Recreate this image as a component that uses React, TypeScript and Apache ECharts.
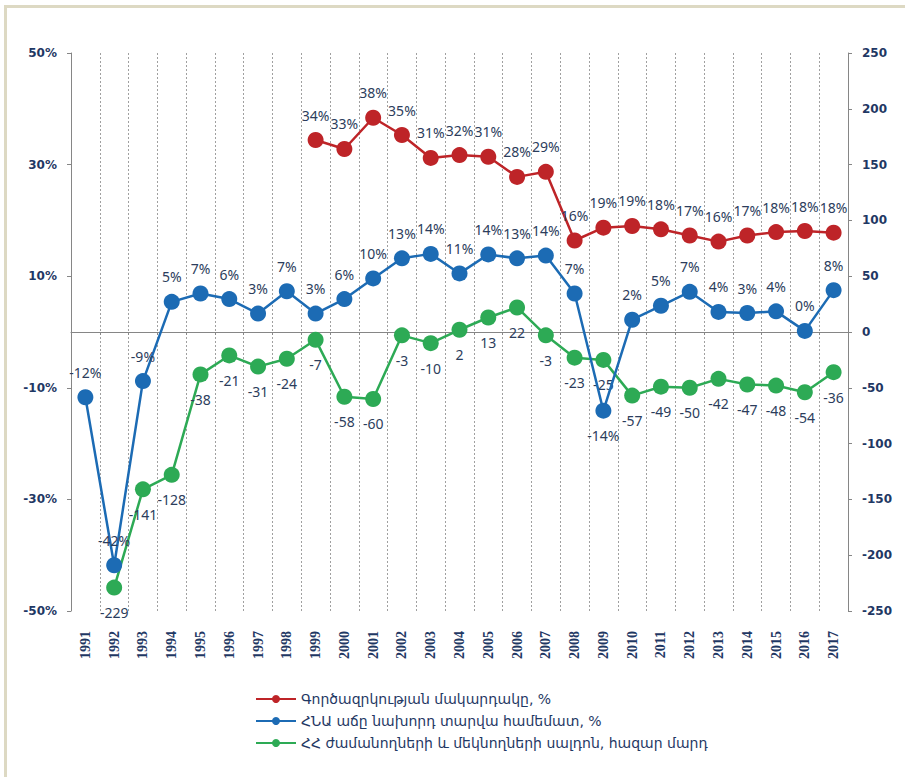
import React, { useEffect, useRef } from "react";
import * as echarts from "echarts";

const years = [
  "1991", "1992", "1993", "1994", "1995", "1996", "1997", "1998", "1999",
  "2000", "2001", "2002", "2003", "2004", "2005", "2006", "2007", "2008",
  "2009", "2010", "2011", "2012", "2013", "2014", "2015", "2016", "2017",
];

const unemploymentName = "Գործազրկության մակարդակը, %";
const gdpName = "ՀՆԱ աճը նախորդ տարվա համեմատ, %";
const migrationName = "ՀՀ ժամանողների և մեկնողների սալդոն, հազար մարդ";

const unemployment = [
  null, null, null, null, null, null, null, null,
  34.4, 32.8, 38.4, 35.3, 31.2, 31.7, 31.4, 27.8, 28.7, 16.4, 18.7, 19.0,
  18.4, 17.3, 16.2, 17.3, 17.9, 18.1, 17.8,
];

const gdpGrowth = [
  -11.7, -41.8, -8.8, 5.4, 6.9, 5.9, 3.3, 7.3, 3.3, 5.9, 9.6, 13.2, 14.0,
  10.5, 13.9, 13.2, 13.7, 6.9, -14.1, 2.2, 4.7, 7.2, 3.6, 3.4, 3.7, 0.2, 7.5,
];

const migration = [
  null, -229, -141, -128, -38, -21, -31, -24, -7, -58, -60, -3, -10, 2, 13,
  22, -3, -23, -25, -57, -49, -50, -42, -47, -48, -54, -36,
];

const leftTicks = { min: -50, max: 50, interval: 20 };
const rightTicks = { min: -250, max: 250, interval: 50 };

const NAVY = "#1F3864";
const LABEL = "#2C3D5C";
const AXIS_GRAY = "#868686";

export default function App() {
  const ref = useRef<HTMLDivElement>(null);

  useEffect(() => {
    if (!ref.current) return;
    const chart = echarts.init(ref.current, undefined, { renderer: "svg" });

    const labelStyle = {
      show: true,
      color: LABEL,
      fontFamily: "Noto Sans",
      fontSize: 14,
    };

    chart.setOption({
      animation: false,
      backgroundColor: "#ffffff",
      graphic: [
        { type: "rect", shape: { x: 4, y: 5, width: 901, height: 3 }, style: { fill: "#DDD9C3" } },
        { type: "rect", shape: { x: 4, y: 5, width: 3, height: 772 }, style: { fill: "#DDD9C3" } },
      ],
      grid: { left: 71, right: 57, top: 53, bottom: 166, containLabel: false },
      legend: {
        orient: "vertical",
        left: 250,
        top: 687,
        itemWidth: 40,
        itemHeight: 10,
        itemGap: 8,
        textStyle: { color: NAVY, fontFamily: "DejaVu Sans", fontSize: 14 },
        data: [unemploymentName, gdpName, migrationName],
      },
      xAxis: [
        {
          type: "category",
          data: years,
          boundaryGap: true,
          position: "bottom",
          axisLine: { show: false, onZero: false },
          axisTick: { show: false },
          axisLabel: {
            rotate: 90,
            margin: 20,
            color: NAVY,
            fontFamily: "Liberation Serif",
            fontWeight: "bold",
            fontSize: 14,
            interval: 0,
          },
          splitLine: {
            show: true,
            interval: 0,
            lineStyle: { color: "#A0A0A0", type: [2, 2], width: 1 },
          },
        },
        {
          type: "category",
          data: years,
          boundaryGap: true,
          position: "bottom",
          axisLine: { show: true, onZero: true, onZeroAxisIndex: 0, lineStyle: { color: AXIS_GRAY, width: 1 } },
          axisTick: { show: true, length: 3, interval: 0, lineStyle: { color: AXIS_GRAY } },
          axisLabel: { show: false },
          splitLine: { show: false },
        },
      ],
      yAxis: [
        {
          type: "value",
          position: "left",
          min: leftTicks.min,
          max: leftTicks.max,
          interval: leftTicks.interval,
          axisLine: { show: true, lineStyle: { color: AXIS_GRAY, width: 1 } },
          axisTick: { show: true, length: 4, lineStyle: { color: AXIS_GRAY } },
          splitLine: { show: false },
          axisLabel: {
            margin: 14,
            color: NAVY,
            fontFamily: "DejaVu Sans",
            fontWeight: "bold",
            fontSize: 12,
            formatter: (v: number) => `${v}%`,
          },
        },
        {
          type: "value",
          position: "right",
          min: rightTicks.min,
          max: rightTicks.max,
          interval: rightTicks.interval,
          axisLine: { show: true, lineStyle: { color: AXIS_GRAY, width: 1 } },
          axisTick: { show: true, length: 4, lineStyle: { color: AXIS_GRAY } },
          splitLine: { show: false },
          axisLabel: {
            margin: 14,
            color: NAVY,
            fontFamily: "DejaVu Sans",
            fontWeight: "bold",
            fontSize: 12,
          },
        },
      ],
      series: [
        {
          name: unemploymentName,
          type: "line",
          yAxisIndex: 0,
          data: unemployment,
          symbol: "circle",
          symbolSize: 16,
          color: "#BE2428",
          lineStyle: { width: 2.5, color: "#BE2428" },
          label: {
            ...labelStyle,
            position: "top",
            distance: 10,
            formatter: (p: any) => `${Math.round(p.value)}%`,
          },
          z: 3,
        },
        {
          name: gdpName,
          type: "line",
          yAxisIndex: 0,
          data: gdpGrowth.map((v, i) =>
            years[i] === "2009"
              ? { value: v, label: { position: "bottom" } }
              : v
          ),
          symbol: "circle",
          symbolSize: 16,
          color: "#1C6BB4",
          lineStyle: { width: 2.5, color: "#1C6BB4" },
          label: {
            ...labelStyle,
            position: "top",
            distance: 10,
            formatter: (p: any) => `${Math.round(p.value)}%`,
          },
          z: 4,
        },
        {
          name: migrationName,
          type: "line",
          yAxisIndex: 1,
          data: migration,
          symbol: "circle",
          symbolSize: 16,
          color: "#2DAA55",
          lineStyle: { width: 2.5, color: "#2DAA55" },
          label: {
            ...labelStyle,
            position: "bottom",
            distance: 10,
            formatter: (p: any) => `${Math.round(p.value)}`,
          },
          z: 2,
        },
      ],
    });

    return () => chart.dispose();
  }, []);

  return (
    <div
      ref={ref}
      style={{ position: "fixed", left: 0, top: 0, width: 905, height: 777 }}
    />
  );
}
